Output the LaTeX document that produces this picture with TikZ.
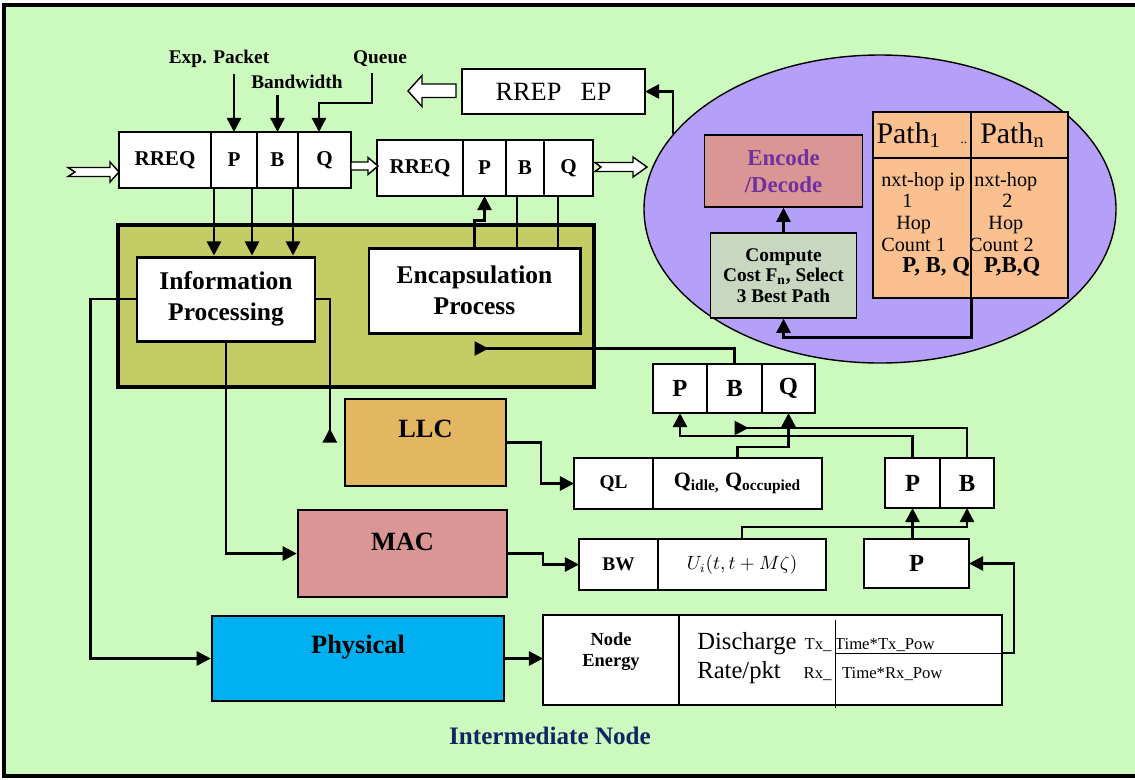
\documentclass[tikz,border=0pt]{standalone}
\usepackage{fontspec}
\setmainfont{Liberation Serif}
\usetikzlibrary{arrows.meta,shapes.geometric,positioning}
\definecolor{bggreen}{RGB}{204,250,190}
\definecolor{olivebox}{RGB}{196,204,102}
\definecolor{llcfill}{RGB}{227,183,97}
\definecolor{macfill}{RGB}{217,150,148}
\definecolor{phyfill}{RGB}{0,176,240}
\definecolor{cloudfill}{RGB}{180,160,248}
\definecolor{cmpfill}{RGB}{201,214,192}
\definecolor{pathfill}{RGB}{250,192,144}
\definecolor{encpurple}{RGB}{112,48,160}
\definecolor{navytxt}{RGB}{16,38,100}
\begin{document}
\begin{tikzpicture}[x=0.02cm,y=-0.02cm,
    sz/.style 2 args={minimum width=#1*0.02cm,minimum height=#2*0.02cm},
    cell/.style={draw,fill=white,line width=0.8pt,inner sep=0pt,outer sep=0pt,
      font=\fontsize{12}{14}\selectfont\bfseries},
    fld/.style={draw,fill=white,line width=1.3pt,inner sep=0pt,outer sep=0pt,
      font=\fontsize{14}{16}\selectfont\bfseries},
    layer/.style={draw,line width=1.4pt,inner sep=0pt,font=\fontsize{15}{18}\selectfont\bfseries},
    proc/.style={draw,fill=white,line width=1.7pt,inner sep=0pt,align=center,
      font=\fontsize{14.5}{17.5}\selectfont\bfseries},
    inbox/.style={draw,line width=0.8pt,inner sep=0pt,align=center},
    hollow/.style={draw,fill=white,line width=0.8pt},
    lbl/.style={font=\fontsize{11}{13}\selectfont\bfseries},
    wire/.style={line width=1.4pt},
    arr/.style={wire,-{Triangle[length=8pt,width=8pt]}},
    revend/.style={wire,-{Triangle[length=8pt,width=8pt,reversed]}},
    revstart/.style={wire,{Triangle[length=8pt,width=8pt,reversed]}-}]
  \useasboundingbox (0,0) rectangle (1135,779);
  \fill[white] (0,0) rectangle (1135,779);
  \draw[line width=2pt,fill=bggreen] (4,5) rectangle (1150,776);

  % incoming request
  \node[cell,sz={92}{56}] (rq1) at (165,160) {RREQ};
  \node[cell,sz={46}{56},right=0pt of rq1] (p1) {P};
  \node[cell,sz={41}{56},right=0pt of p1] (b1) {B};
  \node[cell,sz={53}{56},right=0pt of b1] (q1) {Q};
  \node[lbl] (exp) at (219,59) {Exp. Packet};
  \node[lbl] (bwd) at (297,82) {Bandwidth};
  \node[lbl] (que) at (380,59) {Queue};
  \draw[arr] (p1.north |- exp.south) -- (p1.north);
  \draw[arr] (b1.north |- bwd.south) -- (b1.north);
  \draw[arr] ([xshift=-0.16cm]que.south) -- ++(0,30) -| ([xshift=-0.11cm]q1.north);

  % forwarded request
  \node[cell,sz={86}{56}] (rq2) at (420,168) {RREQ};
  \node[cell,sz={43}{56},right=0pt of rq2] (p2) {P};
  \node[cell,sz={38}{56},right=0pt of p2] (b2) {B};
  \node[cell,sz={49}{56},right=0pt of b2] (q2) {Q};
  \node[cell,sz={183}{45},font=\fontsize{15}{18}\selectfont] (rrep) at (553.5,91.5)
    {RREP\hspace{11pt}EP};

  \draw[hollow] (68,167.5) -- (110,167.5) -- (110,162) -- (119,172) -- (110,182)
    -- (110,176.5) -- (68,176.5) -- (75,172) -- cycle;
  \draw[hollow] (351,162) -- (368,162) -- (368,157.5) -- (378,166) -- (368,174.5)
    -- (368,170) -- (351,170) -- cycle;
  \draw[hollow] (595,162.5) -- (633,162.5) -- (633,157) -- (647,167) -- (633,177)
    -- (633,171.5) -- (595,171.5) -- (601,167) -- cycle;
  \draw[hollow] (456,84) -- (422,84) -- (422,75.5) -- (408,91) -- (422,106.5)
    -- (422,97.5) -- (456,97.5) -- cycle;

  % path selection
  \node[draw,ellipse,fill=cloudfill,line width=0.8pt,sz={472}{308}] (cloud) at (880,209) {};
  \node[inbox,fill=macfill,sz={158}{72},text=encpurple,
    font=\fontsize{13}{15}\selectfont\bfseries] (enc) at (783.5,171) {Encode\\/Decode};
  \node[inbox,fill=cmpfill,sz={146}{85},font=\fontsize{11}{11.5}\selectfont\bfseries]
    (cmp) at (783.5,275.5) {Compute\\Cost F\textsubscript{n}, Select\\3 Best Path};
  \node[inbox,fill=pathfill,sz={98}{46},font=\fontsize{17}{20}\selectfont] (ph1) at (922,135)
    {Path\textsubscript{1}\hspace{11pt}{\fontsize{8}{8}\selectfont ..}};
  \node[inbox,fill=pathfill,sz={97}{46},font=\fontsize{17}{20}\selectfont] (phn) at (1019.5,135)
    {Path\textsubscript{n}\hspace{8pt}};
  \node[inbox,fill=pathfill,sz={98}{140}] (bd1) at (922,228) {};
  \node[inbox,fill=pathfill,sz={97}{140}] (bdn) at (1019.5,228) {};
  \node[anchor=north west,align=left,inner sep=0pt,font=\fontsize{11.5}{12.3}\selectfont]
    (t1) at (881,172) {nxt-hop ip\\\hspace*{12pt}1\\\hspace*{8.5pt}Hop\\Count 1\\
    \hspace*{12pt}{\fontsize{13}{12.3}\selectfont\bfseries P, B, Q}};
  \node[anchor=north west,align=left,inner sep=0pt,font=\fontsize{11.5}{12.3}\selectfont]
    (tn) at (974,172) {nxt-hop\\\hspace*{16pt}2\\\hspace*{8pt}Hop\\\hspace*{-3pt}Count 2\\
    \hspace*{5.5pt}{\fontsize{13}{12.3}\selectfont\bfseries P,B,Q}};
  \draw[arr] (bd1.south east) -- ++(0,39) -| (cmp.south);
  \draw[arr] (cmp.north) -- (enc.south);
  \draw[arr] (cloud.160) |- (rrep.east);

  % processing block
  \node[draw,fill=olivebox,line width=2pt,sz={476}{162}] (olv) at (356,306) {};
  \node[proc,sz={178}{84}] (inf) at (226,299) {Information\\Processing};
  \node[proc,sz={211}{85}] (encap) at (474.5,290.5) {Encapsulation\\Process};
  \foreach \x in {214,252,293}
    \draw[arr] (rq1.south -| \x,0) -- (inf.north -| \x,0);
  \draw[arr] (encap.north) -- ++(0,-26) -| (p2.south);
  \draw[wire] (encap.north -| 517,0) -- (b2.south -| 517,0);
  \draw[wire] (encap.north -| 558,0) -- (q2.south -| 558,0);

  % collected values
  \node[fld,sz={54}{49}] (pm) at (680,388.5) {P};
  \node[fld,sz={55}{49},right=0pt of pm] (bm) {B};
  \node[fld,sz={53}{49},right=0pt of bm] (qm) {Q};
  \draw[revstart] ([yshift=-0.28cm]encap.south) -| (bm.north);

  % layers
  \node[layer,fill=llcfill,sz={161}{87}] (llc) at (425.5,442.5) {\raisebox{3pt}[0pt][0pt]{LLC}};
  \node[layer,fill=macfill,sz={209}{87}] (mac) at (402.5,553.5) {\raisebox{2pt}[0pt][0pt]{MAC}};
  \node[layer,fill=phyfill,sz={292}{85}] (phy) at (358,658.5) {\raisebox{3pt}[0pt][0pt]{Physical}};

  \node[fld,sz={79}{51},font=\fontsize{11}{13}\selectfont\bfseries] (ql) at (613.5,483.5) {QL};
  \node[fld,sz={169}{51},font=\fontsize{12.5}{15}\selectfont\bfseries,right=0pt of ql] (qid)
    {Q\textsubscript{idle,} Q\textsubscript{occupied}};
  \node[fld,sz={55}{50}] (pr) at (912.5,483) {P};
  \node[fld,sz={54}{50},right=0pt of pr] (br) {B};
  \node[fld,sz={79}{51},font=\fontsize{11}{13}\selectfont\bfseries] (bwl) at (618.5,564.5) {BW};
  \node[fld,sz={168}{51},font=\fontsize{10.5}{13}\selectfont,right=0pt of bwl] (uit)
    {$U_i(t,t+M\zeta)$};
  \node[fld,sz={105}{49}] (pl) at (916.5,563.5) {P};

  \node[fld,sz={136}{90},label={[font=\fontsize{10.5}{12}\selectfont\bfseries,align=center,
    yshift=4.8pt]center:Node\\Energy}] (nen) at (611,660) {};
  \node[fld,sz={323}{90}] (dis) at (840.5,660) {};
  \draw[line width=0.5pt] (835,620) -- (835,708) (835,653) -- (dis.east |- 0,653);
  \node[anchor=base west,inner sep=0pt,font=\fontsize{14}{16.5}\selectfont] (dtx) at (697,649)
    {\begin{tabular}[t]{@{}l@{\hspace{4pt}}r@{\hspace{2pt}}l@{}}
      Discharge & \fontsize{9.5}{11}\selectfont Tx\_ & \fontsize{9.5}{11}\selectfont Time*Tx\_Pow\\
      Rate/pkt & \fontsize{9.5}{11}\selectfont Rx\_ & \fontsize{9.5}{11}\selectfont\hspace{4pt}Time*Rx\_Pow
    \end{tabular}};

  \draw[revend] (inf.east) -| ([xshift=-0.28cm]llc.west);
  \draw[arr] (llc.east) -- ++(34,0) |- (ql.west);
  \draw[arr] (qid.north) -- ++(0,-11) -| (qm.south);
  \draw[arr] (pr.north) -- ++(0,-22) -| (pm.south);
  \draw[revend] (br.north) |- ([yshift=-0.3cm]bm.south);
  \draw[arr] (inf.south) |- (mac.west);
  \draw[arr] (mac.east) -- ++(35,0) |- (bwl.west);
  \draw[arr] (uit.north) -- ++(0,-12) -| (br.south);
  \draw[arr] (pr.south |- pl.north) -- (pr.south);
  \draw[arr] (inf.west) -- ++(-45,0) |- (phy.west);
  \draw[arr] (phy.east) -- (phy.east -| nen.west);
  \draw[arr] (dis.east |- 0,653) -- ++(12,0) |- (pl.east);

  \node[font=\fontsize{14.3}{17}\selectfont\bfseries,text=navytxt] (ttl) at (550,736)
    {Intermediate Node};
\end{tikzpicture}
\end{document}
